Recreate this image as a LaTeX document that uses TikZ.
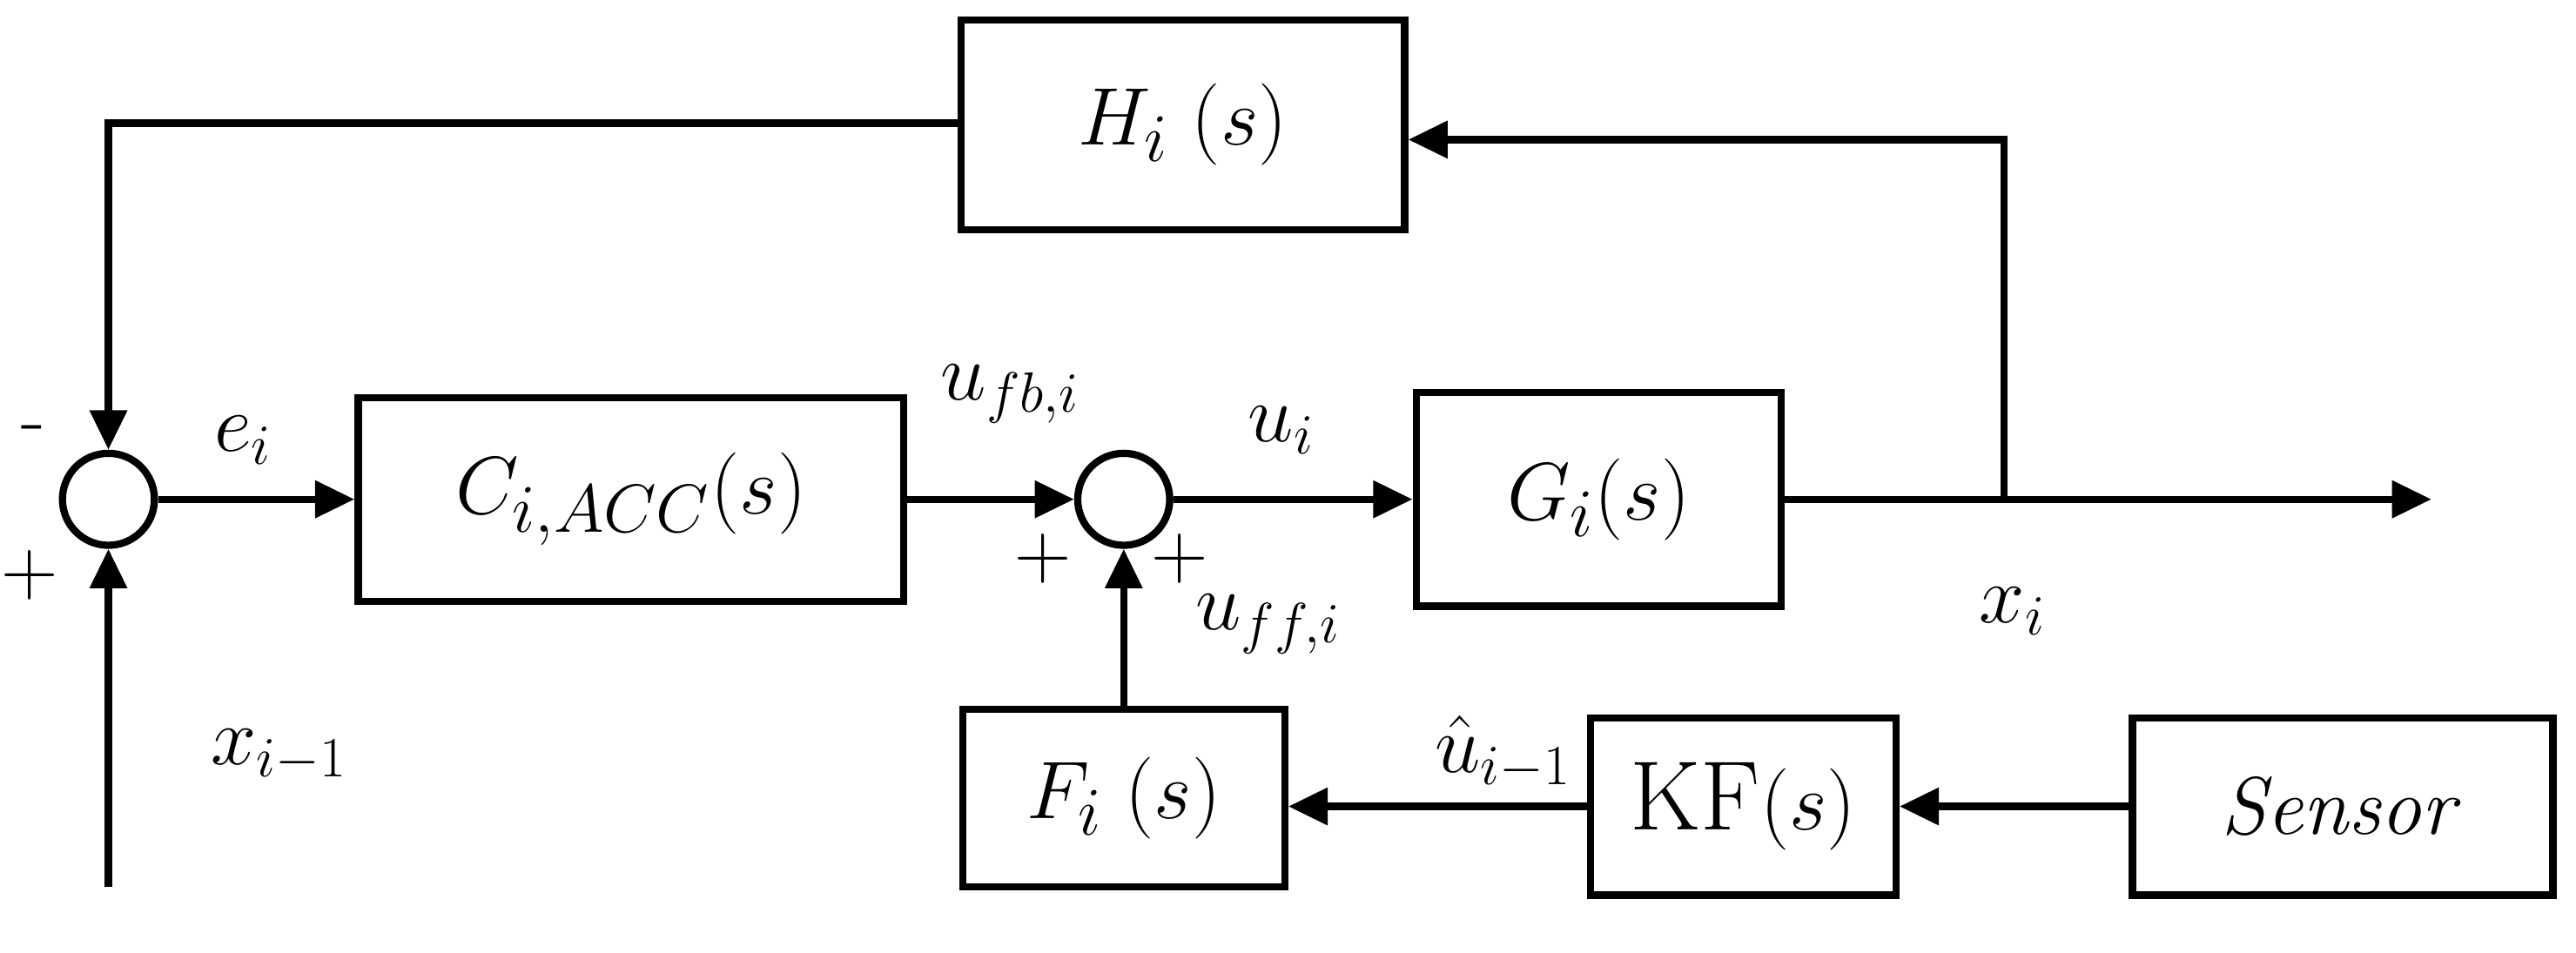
\documentclass[tikz,border=0pt]{standalone}
\usetikzlibrary{arrows.meta}
\begin{document}
\begin{tikzpicture}[x=0.5pt,y=-0.5pt,line width=2.2pt,
 blk/.style={draw,line width=2.2pt,inner sep=0pt,font=\fontsize{30}{36}\selectfont},
 sum/.style={draw,circle,line width=2.2pt,minimum size=28pt,inner sep=0pt},
 lbl/.style={font=\fontsize{24}{28}\selectfont},
 arr/.style={-{Triangle[length=12pt,width=11pt]}}]
\useasboundingbox (0,0) rectangle (1568,580);
\node[blk,minimum width=135pt,minimum height=64pt] (H) at (720,76) {$H_i\;(s)$};
\node[blk,minimum width=166pt,minimum height=62pt] (C) at (384,304) {$C_{i,ACC}(s)$};
\node[blk,minimum width=111pt,minimum height=65pt] (G) at (973,304) {$G_i(s)$};
\node[blk,minimum width=98pt,minimum height=54pt] (F) at (684,486) {$F_i\;(s)$};
\node[blk,minimum width=93pt,minimum height=54pt] (KF) at (1061,491) {KF$(s)$};
\node[blk,minimum width=128pt,minimum height=54pt] (S) at (1426,491) {$\mathit{Sensor}$};
\node[sum] (s1) at (66,304) {};
\node[sum] (s2) at (684,304) {};
\coordinate (in) at (66,540);
\coordinate (tap) at (1220,304);
\coordinate (out) at (1480,304);
\draw[arr] (H.west |- 0,75) -| (s1.north);
\draw[arr] (in) -- (s1.south);
\draw[arr] (s1.east) -- (C.west);
\draw[arr] (C.east) -- (s2.west);
\draw[arr] (s2.east) -- (G.west);
\draw[arr] (G.east) -- (out);
\draw[arr] (tap) -- (1220,85) -- (H.east |- 0,85);
\draw[arr] (F.north) -- (s2.south);
\draw[arr] (KF.west) -- (F.east |- KF.west);
\draw[arr] (S.west) -- (KF.east);
\node[lbl] at (20,265) {-};
\node[lbl] at (18,350) {+};
\node[lbl] at (635,340) {+};
\node[lbl] at (718,340) {+};
\node[lbl] at (148,268) {$e_i$};
\node[lbl] at (170,460) {$x_{i-1}$};
\node[lbl] at (615,240) {$u_{fb,i}$};
\node[lbl] at (780,262) {$u_i$};
\node[lbl] at (1225,372) {$x_i$};
\node[lbl] at (772,380) {$u_{ff,i}$};
\node[lbl] at (915,458) {$\hat{u}_{i-1}$};
\end{tikzpicture}
\end{document}
